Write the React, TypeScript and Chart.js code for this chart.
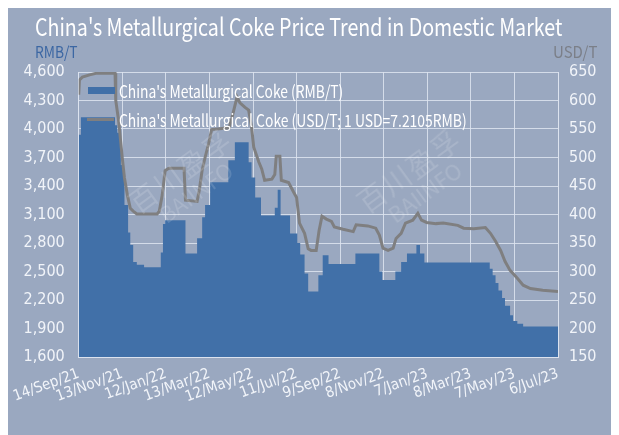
import React, { useEffect, useRef, useLayoutEffect, useState } from 'react';
import { Chart, registerables } from 'chart.js';
Chart.register(...registerables);

// x positions are days counted from 14/Sep/21
const tickLabels = ['14/Sep/21', '13/Nov/21', '12/Jan/22', '13/Mar/22', '12/May/22', '11/Jul/22', '9/Sep/22', '8/Nov/22', '7/Jan/23', '8/Mar/23', '7/May/23', '6/Jul/23'];
const tickStepDays = 60;

const rmbDays = [0, 3, 50, 53, 58, 61, 63, 68, 71, 75, 80, 90, 113, 116, 119, 147, 163, 170, 174, 181, 206, 215, 234, 238, 243, 251, 270, 274, 278, 291, 301, 305, 311, 316, 330, 336, 344, 381, 414, 418, 436, 444, 452, 465, 470, 476, 566, 570, 574, 578, 583, 587, 594, 598, 604, 612, 621, 660];
const rmbValues = [3940, 4125, 4040, 3960, 3620, 3520, 3200, 2910, 2780, 2600, 2570, 2545, 2700, 3000, 3040, 2690, 2850, 3070, 3200, 3440, 3670, 3860, 3650, 3490, 3280, 3090, 3170, 3360, 3090, 2900, 2800, 2680, 2480, 2290, 2460, 2670, 2580, 2690, 2500, 2410, 2500, 2600, 2690, 2780, 2690, 2595, 2530, 2460, 2380, 2300, 2220, 2140, 2040, 1980, 1950, 1920, 1920, 1920];

const usdDays = [0, 1, 5, 15, 25, 50, 51, 55, 60, 63, 67, 71, 75, 80, 108, 111, 115, 119, 124, 145, 147, 163, 166, 170, 174, 179, 183, 207, 211, 218, 222, 229, 234, 238, 241, 248, 252, 256, 266, 270, 272, 277, 279, 289, 296, 300, 304, 311, 316, 320, 327, 331, 335, 341, 348, 352, 364, 378, 382, 398, 409, 414, 419, 426, 433, 437, 444, 450, 460, 467, 472, 479, 492, 502, 522, 530, 544, 560, 567, 574, 581, 587, 594, 604, 612, 622, 639, 660];
const usdValues = [610, 636, 641, 645, 648, 648, 600, 564, 499, 464, 434, 411, 406, 401, 401, 406, 434, 477, 481, 481, 425, 423, 442, 478, 500, 525, 549, 552, 570, 606, 596, 588, 583, 553, 518, 492, 480, 460, 462, 470, 502, 502, 460, 456, 439, 430, 385, 367, 340, 337, 337, 372, 397, 392, 388, 378, 374, 370, 382, 380, 376, 364, 341, 337, 341, 358, 367, 385, 390, 402, 390, 386, 384, 385, 381, 376, 375, 377, 367, 353, 337, 318, 302, 288, 276, 270, 267, 265];

const TITLE = "China's Metallurgical Coke Price Trend in Domestic Market";
const LEGEND_RMB = "China's Metallurgical Coke (RMB/T)";
const LEGEND_USD = "China's Metallurgical Coke (USD/T; 1 USD=7.2105RMB)";

const BG = '#9aa8c0';
const BLUE = '#4170a8';
const GRAY = '#7f7f80';
const GRID = 'rgba(222,229,240,0.85)';
const TICK = '#f1f4f9';
const TICK_FONT = "'Liberation Sans Narrow', 'DejaVu Sans Condensed', 'Noto Sans', sans-serif";
const HTML_FONT = "'Noto Sans CJK SC', 'Noto Sans', sans-serif";

function FitText(props: { text: string; width: number; left: number; top: number; size: number; color: string; weight?: number }) {
  const ref = useRef<HTMLSpanElement>(null);
  const [sx, setSx] = useState(1);
  useLayoutEffect(() => {
    if (ref.current) {
      const w = ref.current.offsetWidth;
      if (w > 0) setSx(props.width / w);
    }
  }, [props.text, props.width]);
  return (
    <span
      ref={ref}
      style={{
        position: 'absolute',
        left: props.left,
        top: props.top,
        fontFamily: HTML_FONT,
        fontSize: props.size,
        lineHeight: props.size + 'px',
        fontWeight: props.weight ?? 400,
        color: props.color,
        whiteSpace: 'nowrap',
        transformOrigin: '0 0',
        transform: `scaleX(${sx})`,
      }}
    >
      {props.text}
    </span>
  );
}

function Watermark(props: { cx: number; cy: number }) {
  return (
    <div
      style={{
        position: 'absolute',
        left: props.cx,
        top: props.cy,
        transform: 'translate(-50%, -50%) rotate(-36deg)',
        color: 'rgba(255,255,255,0.14)',
        fontFamily: HTML_FONT,
        textAlign: 'center',
        lineHeight: 1.05,
        pointerEvents: 'none',
        whiteSpace: 'nowrap',
      }}
    >
      <div style={{ fontSize: 28, letterSpacing: 2 }}>百川盈孚</div>
      <div style={{ fontSize: 22 }}>BAIINFO</div>
    </div>
  );
}

export default function App() {
  const canvasRef = useRef<HTMLCanvasElement>(null);

  useEffect(() => {
    if (!canvasRef.current) return;
    const chart = new Chart(canvasRef.current, {
      type: 'line',
      data: {
        datasets: [
          {
            label: LEGEND_USD,
            data: usdDays.map((d, i) => ({ x: d, y: usdValues[i] })),
            yAxisID: 'y1',
            borderColor: GRAY,
            borderWidth: 3,
            pointRadius: 0,
            fill: false,
            tension: 0,
            order: 1,
          },
          {
            label: LEGEND_RMB,
            data: rmbDays.map((d, i) => ({ x: d, y: rmbValues[i] })),
            yAxisID: 'y',
            backgroundColor: BLUE,
            borderColor: BLUE,
            borderWidth: 0,
            pointRadius: 0,
            stepped: true,
            fill: 'start',
            order: 2,
          },
        ],
      },
      options: {
        responsive: false,
        animation: false,
        layout: { padding: { top: 64, left: 0, right: 0, bottom: 0 } },
        plugins: { legend: { display: false }, tooltip: { enabled: false }, title: { display: false } },
        scales: {
          x: {
            type: 'linear',
            min: 0,
            max: tickStepDays * (tickLabels.length - 1),
            afterBuildTicks: (s: any) => {
              s.ticks = tickLabels.map((_, i) => ({ value: i * tickStepDays }));
            },
            afterFit: (s: any) => {
              s.height = 78;
            },
            ticks: {
              autoSkip: false,
              maxRotation: 20,
              minRotation: 20,
              padding: 8,
              color: TICK,
              font: { family: TICK_FONT, size: 15 },
              callback: (_v: any, i: number) => tickLabels[i],
            },
            grid: { color: GRID, lineWidth: 1, drawTicks: false },
            border: { color: GRID },
          },
          y: {
            position: 'left',
            min: 1600,
            max: 4600,
            afterBuildTicks: (s: any) => {
              const t = [];
              for (let v = 1600; v <= 4600; v += 300) t.push({ value: v });
              s.ticks = t;
            },
            afterFit: (s: any) => {
              s.width = 70;
            },
            ticks: {
              padding: 14,
              color: TICK,
              font: { family: TICK_FONT, size: 16 },
              callback: (v: any) => Number(v).toLocaleString('en-US'),
            },
            grid: { color: GRID, lineWidth: 1, drawTicks: false },
            border: { color: GRID },
          },
          y1: {
            position: 'right',
            min: 150,
            max: 650,
            afterBuildTicks: (s: any) => {
              const t = [];
              for (let v = 150; v <= 650; v += 50) t.push({ value: v });
              s.ticks = t;
            },
            afterFit: (s: any) => {
              s.width = 61;
            },
            ticks: {
              padding: 11,
              color: TICK,
              font: { family: TICK_FONT, size: 16 },
            },
            grid: { display: false, drawTicks: false },
            border: { color: GRID },
          },
        },
      },
    } as any);
    return () => chart.destroy();
  }, []);

  return (
    <div style={{ position: 'relative', width: 613, height: 427, marginLeft: -2, background: BG, overflow: 'hidden' }}>
      <canvas ref={canvasRef} width={613} height={427} style={{ position: 'absolute', left: 0, top: 0 }} />
      <Watermark cx={181} cy={172} />
      <Watermark cx={410} cy={172} />
      <FitText text={TITLE} width={527} left={29} top={6} size={24} color="#ffffff" />
      <FitText text="RMB/T" width={43} left={29} top={35} size={16} color="#3c67a3" />
      <FitText text="USD/T" width={44} left={547} top={35} size={16} color="#7b7f88" />
      <div style={{ position: 'absolute', left: 82, top: 79, width: 27, height: 7, background: BLUE }} />
      <FitText text={LEGEND_RMB} width={224} left={113} top={74} size={17} color="#ffffff" />
      <div style={{ position: 'absolute', left: 81, top: 110, width: 27, height: 3, background: GRAY }} />
      <FitText text={LEGEND_USD} width={348} left={113} top={103} size={17} color="#ffffff" />
    </div>
  );
}
